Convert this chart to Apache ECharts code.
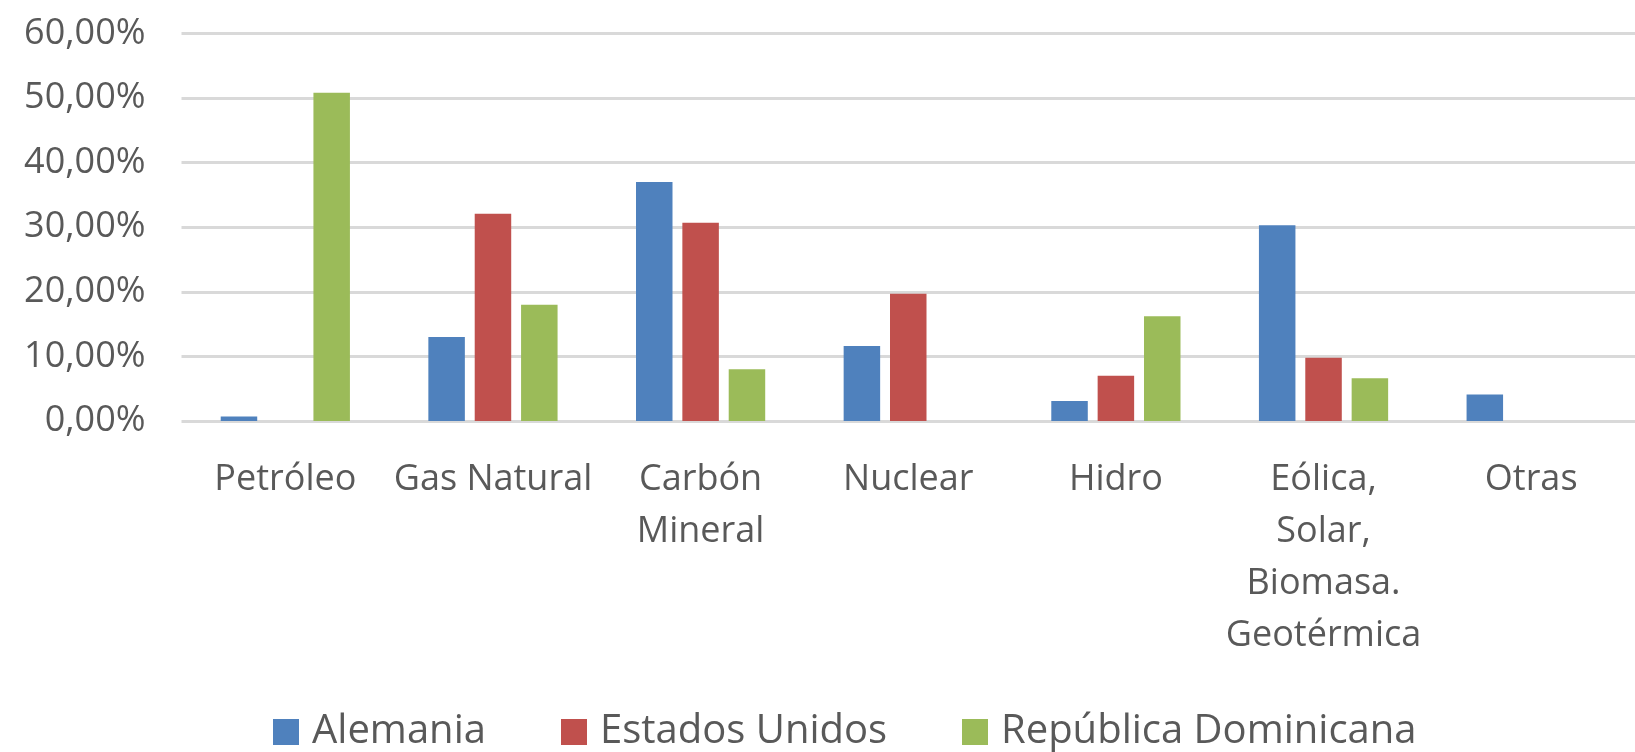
<!DOCTYPE html>
<html>
<head>
<meta charset="utf-8">
<title>Generación eléctrica por fuente</title>
<script src="https://cdn.jsdelivr.net/npm/echarts@6/dist/echarts.min.js"></script>
<style>
  html, body { margin: 0; padding: 0; background: #ffffff; }
  #chart { width: 1635px; height: 752px; }
</style>
</head>
<body>
<div id="chart"></div>
<script>
// Energy sources (category axis)
const categories = [
  'Petróleo',
  'Gas Natural',
  'Carbón\nMineral',
  'Nuclear',
  'Hidro',
  'Eólica,\nSolar,\nBiomasa.\nGeotérmica',
  'Otras'
];

// Share of electricity generation, in percent
const alemania       = [0.7, 13.0, 37.0, 11.6, 3.1, 30.3, 4.1];
const estadosUnidos  = [0.0, 32.1, 30.7, 19.7, 7.0, 9.8, 0.0];
const repDominicana  = [50.8, 18.0, 8.0, 0.0, 16.2, 6.6, 0.0];

const seriesNames = ['Alemania', 'Estados Unidos', 'República Dominicana'];

// Value axis ticks
const yMin = 0;
const yMax = 60;
const yStep = 10;

const FONT = '"Open Sans", "Noto Sans", sans-serif';
const TEXT_COLOR = '#595959';
const GRID_COLOR = '#d9d9d9';
const COLORS = ['#4f81bd', '#c0504d', '#9bbb59'];

const fmtPct = v => v.toFixed(2).replace('.', ',') + '%';

function legendAt(name, left) {
  return {
    data: [name],
    left: left,
    top: 707,
    itemWidth: 26,
    itemHeight: 26,
    icon: 'rect',
    selectedMode: false,
    textStyle: {
      fontFamily: FONT,
      fontSize: 40,
      color: TEXT_COLOR,
      padding: [0, 0, 0, 8]
    }
  };
}

const chart = echarts.init(document.getElementById('chart'), null, { renderer: 'canvas' });

const dataSets = [alemania, estadosUnidos, repDominicana];

chart.setOption({
  animation: false,
  backgroundColor: '#ffffff',
  color: COLORS,
  grid: {
    left: 181.5,
    top: 33.4,
    width: 1463,
    height: 387.6
  },
  legend: [
    legendAt(seriesNames[0], 268),
    legendAt(seriesNames[1], 556),
    legendAt(seriesNames[2], 957)
  ],
  xAxis: {
    type: 'category',
    data: categories,
    axisLine: { show: false },
    axisTick: { show: false },
    axisLabel: {
      interval: 0,
      margin: 33,
      fontFamily: FONT,
      fontSize: 36,
      lineHeight: 52,
      color: TEXT_COLOR,
      align: 'center'
    }
  },
  yAxis: {
    type: 'value',
    min: yMin,
    max: yMax,
    interval: yStep,
    axisLine: { show: false },
    axisTick: { show: false },
    splitLine: { lineStyle: { color: GRID_COLOR, width: 3 } },
    axisLabel: {
      margin: 36,
      fontFamily: FONT,
      fontSize: 36,
      color: TEXT_COLOR,
      formatter: fmtPct
    }
  },
  series: seriesNames.map((name, i) => ({
    name: name,
    type: 'bar',
    data: dataSets[i],
    barWidth: 36.5,
    barGap: '27%',
    itemStyle: { color: COLORS[i] }
  }))
});
</script>
</body>
</html>
